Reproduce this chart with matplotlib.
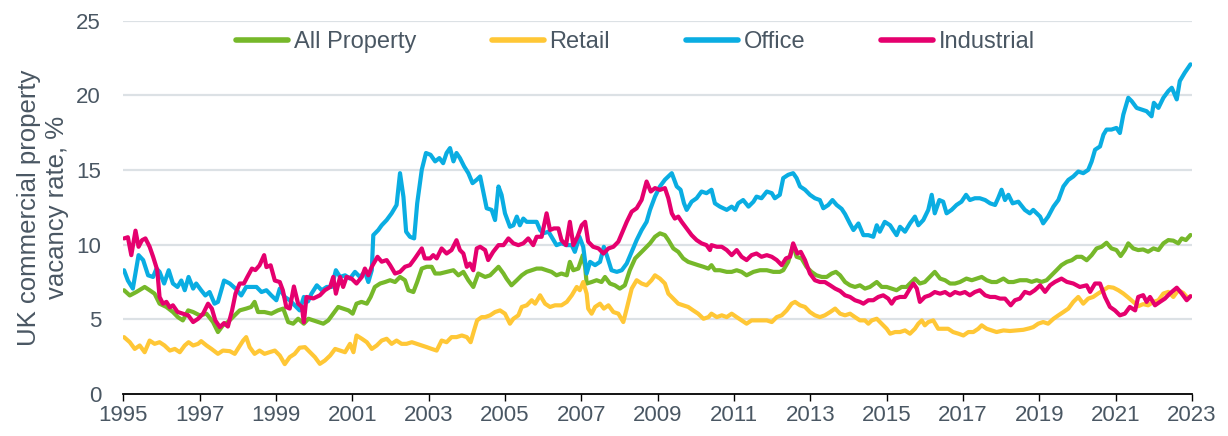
import matplotlib
matplotlib.use("Agg")
import matplotlib.pyplot as plt

# ----------------------------
# Data (decimal year, vacancy %)
# ----------------------------
all_x = [1995.02, 1995.17, 1995.34, 1995.56, 1995.69, 1995.82, 1995.95, 1996.13, 1996.30, 1996.43,
         1996.56, 1996.70, 1996.83, 1997.00, 1997.18, 1997.35, 1997.48, 1997.61, 1997.74, 1997.92,
         1998.05, 1998.22, 1998.35, 1998.44, 1998.53, 1998.70, 1998.88, 1999.05, 1999.19, 1999.32,
         1999.45, 1999.58, 1999.73, 1999.85, 1999.98, 2000.11, 2000.24, 2000.37, 2000.50, 2000.63,
         2000.76, 2000.90, 2001.01, 2001.11, 2001.24, 2001.38, 2001.48, 2001.59, 2001.73, 2001.86,
         2001.99, 2002.12, 2002.25, 2002.38, 2002.47, 2002.60, 2002.70, 2002.82, 2002.95, 2003.08,
         2003.17, 2003.30, 2003.47, 2003.65, 2003.78, 2003.91, 2004.04, 2004.17, 2004.30, 2004.48,
         2004.61, 2004.74, 2004.83, 2004.96, 2005.04, 2005.17, 2005.31, 2005.44, 2005.57, 2005.70,
         2005.83, 2005.96, 2006.09, 2006.22, 2006.35, 2006.48, 2006.62, 2006.70, 2006.79, 2006.92,
         2007.04, 2007.10, 2007.14, 2007.27, 2007.40, 2007.53, 2007.62, 2007.75, 2007.88, 2008.01,
         2008.14, 2008.27, 2008.41, 2008.54, 2008.67, 2008.80, 2008.93, 2009.06, 2009.19, 2009.28,
         2009.41, 2009.54, 2009.67, 2009.80, 2009.93, 2010.06, 2010.20, 2010.33, 2010.41, 2010.50,
         2010.63, 2010.81, 2010.94, 2011.07, 2011.20, 2011.33, 2011.51, 2011.68, 2011.86, 2012.03,
         2012.20, 2012.29, 2012.42, 2012.55, 2012.64, 2012.77, 2012.90, 2013.03, 2013.16, 2013.30,
         2013.43, 2013.56, 2013.67, 2013.78, 2013.91, 2014.04, 2014.17, 2014.30, 2014.43, 2014.56,
         2014.74, 2014.87, 2015.00, 2015.13, 2015.26, 2015.39, 2015.52, 2015.65, 2015.74, 2015.87,
         2016.00, 2016.13, 2016.26, 2016.40, 2016.53, 2016.66, 2016.79, 2016.92, 2017.09, 2017.23,
         2017.36, 2017.49, 2017.62, 2017.75, 2017.88, 2018.06, 2018.19, 2018.32, 2018.49, 2018.67,
         2018.80, 2018.93, 2019.06, 2019.19, 2019.32, 2019.45, 2019.58, 2019.72, 2019.85, 2019.98,
         2020.11, 2020.24, 2020.37, 2020.50, 2020.63, 2020.76, 2020.89, 2021.02, 2021.13, 2021.24,
         2021.33, 2021.46, 2021.59, 2021.72, 2021.85, 2021.99, 2022.12, 2022.25, 2022.38, 2022.51,
         2022.64, 2022.73, 2022.84, 2022.96]
all_y = [6.95, 6.60, 6.83, 7.17, 6.95, 6.72, 6.05, 5.83, 5.49, 5.15,
         4.93, 5.60, 5.49, 5.27, 5.38, 4.82, 4.15, 4.60, 4.82, 5.27,
         5.60, 5.72, 5.83, 6.17, 5.49, 5.49, 5.38, 5.60, 5.72, 4.82,
         4.71, 5.04, 4.71, 5.04, 4.93, 4.82, 4.71, 4.93, 5.38, 5.83,
         5.72, 5.60, 5.38, 6.05, 6.17, 6.05, 6.50, 7.17, 7.40, 7.50,
         7.62, 7.50, 7.84, 7.62, 6.95, 6.83, 7.50, 8.40, 8.52, 8.52,
         8.07, 8.07, 8.18, 8.29, 7.95, 8.18, 7.62, 7.17, 8.07, 7.84,
         7.95, 8.29, 8.52, 8.07, 7.73, 7.28, 7.62, 7.95, 8.18, 8.29,
         8.40, 8.40, 8.29, 8.18, 7.95, 8.07, 7.95, 8.85, 8.29, 8.40,
         9.30, 8.52, 7.40, 7.50, 7.62, 7.50, 7.84, 7.40, 7.28, 7.06,
         7.28, 8.29, 9.08, 9.41, 9.75, 10.09, 10.53, 10.76, 10.64, 10.31,
         9.75, 9.52, 9.08, 8.85, 8.74, 8.63, 8.52, 8.40, 8.63, 8.29,
         8.29, 8.18, 8.18, 8.29, 8.18, 7.95, 8.18, 8.29, 8.29, 8.18,
         8.18, 8.29, 8.85, 9.97, 9.19, 9.08, 8.52, 8.18, 7.95, 7.84,
         7.84, 8.07, 8.18, 7.95, 7.50, 7.28, 7.17, 7.28, 7.06, 7.17,
         7.50, 7.17, 7.17, 7.06, 6.95, 7.17, 7.17, 7.50, 7.73, 7.40,
         7.50, 7.84, 8.18, 7.73, 7.62, 7.40, 7.40, 7.50, 7.73, 7.62,
         7.73, 7.84, 7.62, 7.50, 7.50, 7.73, 7.50, 7.50, 7.62, 7.62,
         7.51, 7.62, 7.51, 7.62, 7.95, 8.29, 8.63, 8.85, 8.96, 9.19,
         9.19, 8.96, 9.30, 9.75, 9.86, 10.13, 9.75, 9.64, 9.24, 9.64,
         10.09, 9.75, 9.64, 9.68, 9.53, 9.75, 9.64, 10.09, 10.31, 10.27,
         10.09, 10.42, 10.31, 10.65]

retail_x = [1995.02, 1995.17, 1995.30, 1995.43, 1995.56, 1995.69, 1995.82, 1995.95, 1996.08, 1996.22,
            1996.35, 1996.48, 1996.61, 1996.71, 1996.83, 1996.96, 1997.04, 1997.18, 1997.31, 1997.48,
            1997.61, 1997.79, 1997.92, 1998.00, 1998.14, 1998.22, 1998.31, 1998.44, 1998.57, 1998.70,
            1998.83, 1998.97, 1999.10, 1999.23, 1999.36, 1999.49, 1999.62, 1999.76, 1999.89, 2000.02,
            2000.15, 2000.28, 2000.42, 2000.55, 2000.68, 2000.81, 2000.94, 2001.03, 2001.11, 2001.25,
            2001.38, 2001.51, 2001.64, 2001.77, 2001.90, 2002.03, 2002.16, 2002.29, 2002.42, 2002.56,
            2002.69, 2002.82, 2002.95, 2003.08, 2003.21, 2003.34, 2003.47, 2003.60, 2003.73, 2003.87,
            2004.00, 2004.10, 2004.19, 2004.27, 2004.39, 2004.48, 2004.61, 2004.74, 2004.87, 2005.00,
            2005.13, 2005.22, 2005.35, 2005.44, 2005.57, 2005.70, 2005.79, 2005.92, 2006.05, 2006.18,
            2006.31, 2006.48, 2006.62, 2006.75, 2006.88, 2006.96, 2007.05, 2007.14, 2007.18, 2007.27,
            2007.36, 2007.49, 2007.59, 2007.71, 2007.84, 2007.97, 2008.10, 2008.19, 2008.32, 2008.45,
            2008.58, 2008.71, 2008.84, 2008.93, 2009.06, 2009.19, 2009.28, 2009.41, 2009.54, 2009.67,
            2009.80, 2009.93, 2010.06, 2010.20, 2010.33, 2010.41, 2010.55, 2010.68, 2010.81, 2010.94,
            2011.07, 2011.20, 2011.33, 2011.46, 2011.59, 2011.72, 2011.86, 2011.99, 2012.12, 2012.25,
            2012.38, 2012.51, 2012.60, 2012.73, 2012.86, 2012.99, 2013.12, 2013.25, 2013.38, 2013.52,
            2013.65, 2013.78, 2013.91, 2014.04, 2014.17, 2014.30, 2014.43, 2014.52, 2014.61, 2014.74,
            2014.87, 2015.00, 2015.09, 2015.22, 2015.35, 2015.48, 2015.61, 2015.74, 2015.83, 2015.92,
            2016.00, 2016.09, 2016.22, 2016.35, 2016.48, 2016.61, 2016.74, 2016.88, 2017.01, 2017.14,
            2017.27, 2017.40, 2017.49, 2017.62, 2017.75, 2017.88, 2018.06, 2018.23, 2018.40, 2018.58,
            2018.74, 2018.84, 2018.97, 2019.10, 2019.23, 2019.37, 2019.50, 2019.63, 2019.76, 2019.89,
            2020.02, 2020.15, 2020.28, 2020.41, 2020.54, 2020.68, 2020.81, 2020.94, 2021.07, 2021.20,
            2021.33, 2021.46, 2021.59, 2021.72, 2021.85, 2021.99, 2022.12, 2022.25, 2022.38, 2022.51,
            2022.64, 2022.77, 2022.90, 2022.96]
retail_y = [3.81, 3.47, 3.02, 3.25, 2.80, 3.58, 3.36, 3.47, 3.25, 2.91,
            3.02, 2.80, 3.25, 3.47, 3.25, 3.36, 3.54, 3.25, 3.02, 2.69,
            2.91, 2.87, 2.69, 3.02, 3.58, 3.81, 3.14, 2.69, 2.91, 2.69,
            2.80, 2.91, 2.58, 2.00, 2.47, 2.69, 3.10, 3.14, 2.80, 2.47,
            2.02, 2.24, 2.58, 3.02, 2.91, 2.80, 3.36, 2.80, 3.92, 3.70,
            3.47, 3.02, 3.25, 3.58, 3.70, 3.36, 3.58, 3.36, 3.36, 3.47,
            3.36, 3.25, 3.14, 3.02, 2.91, 3.58, 3.47, 3.81, 3.81, 3.92,
            3.81, 3.47, 4.26, 4.93, 5.15, 5.15, 5.27, 5.49, 5.60, 5.38,
            4.71, 5.04, 5.27, 5.83, 5.94, 6.28, 6.05, 6.61, 6.05, 5.83,
            5.94, 5.94, 6.17, 6.61, 7.17, 6.95, 7.50, 6.72, 5.72, 5.38,
            5.83, 6.05, 5.72, 5.94, 5.49, 5.38, 4.82, 5.72, 7.06, 7.62,
            7.40, 7.28, 7.62, 7.95, 7.73, 7.40, 6.72, 6.39, 6.05, 5.94,
            5.83, 5.60, 5.38, 5.04, 5.15, 5.38, 5.15, 5.27, 5.15, 5.38,
            5.15, 4.93, 4.71, 4.93, 4.93, 4.93, 4.93, 4.82, 5.15, 5.27,
            5.60, 6.05, 6.17, 5.94, 5.83, 5.49, 5.27, 5.15, 5.27, 5.49,
            5.72, 5.38, 5.27, 5.38, 5.15, 4.93, 4.93, 4.71, 4.93, 5.04,
            4.71, 4.37, 4.04, 4.15, 4.15, 4.26, 4.04, 4.37, 4.71, 4.93,
            4.60, 4.82, 4.93, 4.37, 4.37, 4.37, 4.15, 4.04, 3.92, 4.15,
            4.15, 4.37, 4.60, 4.37, 4.26, 4.15, 4.26, 4.22, 4.26, 4.30,
            4.40, 4.48, 4.71, 4.82, 4.71, 5.04, 5.27, 5.49, 5.72, 6.17,
            6.50, 6.05, 6.39, 6.50, 6.73, 6.95, 7.17, 7.12, 6.95, 6.73,
            6.46, 6.17, 5.88, 6.02, 5.94, 6.17, 6.28, 6.73, 6.84, 6.50,
            6.95, 6.77, 6.39, 6.55]

office_x = [1995.02, 1995.12, 1995.25, 1995.40, 1995.52, 1995.65, 1995.78, 1995.87, 1995.95, 1996.07,
            1996.19, 1996.30, 1996.42, 1996.52, 1996.61, 1996.71, 1996.83, 1996.91, 1997.04, 1997.15,
            1997.26, 1997.39, 1997.48, 1997.64, 1997.79, 1997.94, 1998.09, 1998.22, 1998.35, 1998.49,
            1998.62, 1998.75, 1998.88, 1999.01, 1999.10, 1999.23, 1999.36, 1999.49, 1999.62, 1999.73,
            1999.84, 1999.93, 2000.07, 2000.20, 2000.33, 2000.46, 2000.57, 2000.68, 2000.81, 2000.94,
            2001.07, 2001.20, 2001.33, 2001.42, 2001.51, 2001.55, 2001.68, 2001.77, 2001.90, 2002.03,
            2002.16, 2002.25, 2002.34, 2002.41, 2002.51, 2002.62, 2002.70, 2002.82, 2002.93, 2003.05,
            2003.17, 2003.28, 2003.38, 2003.47, 2003.56, 2003.65, 2003.73, 2003.82, 2003.93, 2004.04,
            2004.15, 2004.26, 2004.35, 2004.43, 2004.52, 2004.65, 2004.74, 2004.83, 2004.91, 2005.00,
            2005.13, 2005.22, 2005.31, 2005.39, 2005.48, 2005.57, 2005.70, 2005.83, 2005.92, 2006.00,
            2006.14, 2006.22, 2006.35, 2006.48, 2006.62, 2006.75, 2006.83, 2006.95, 2007.05, 2007.14,
            2007.23, 2007.36, 2007.49, 2007.59, 2007.68, 2007.79, 2007.93, 2008.06, 2008.19, 2008.32,
            2008.45, 2008.58, 2008.71, 2008.80, 2008.93, 2009.06, 2009.19, 2009.37, 2009.50, 2009.60,
            2009.69, 2009.76, 2009.89, 2010.02, 2010.15, 2010.28, 2010.41, 2010.50, 2010.63, 2010.81,
            2010.94, 2011.03, 2011.11, 2011.24, 2011.38, 2011.51, 2011.59, 2011.72, 2011.86, 2011.99,
            2012.07, 2012.20, 2012.29, 2012.42, 2012.55, 2012.64, 2012.73, 2012.86, 2012.99, 2013.12,
            2013.25, 2013.34, 2013.47, 2013.58, 2013.69, 2013.82, 2013.91, 2014.04, 2014.13, 2014.26,
            2014.39, 2014.52, 2014.65, 2014.74, 2014.82, 2014.95, 2015.09, 2015.17, 2015.26, 2015.35,
            2015.48, 2015.61, 2015.74, 2015.83, 2015.96, 2016.09, 2016.18, 2016.26, 2016.38, 2016.48,
            2016.57, 2016.70, 2016.83, 2016.96, 2017.08, 2017.18, 2017.31, 2017.44, 2017.58, 2017.71,
            2017.84, 2017.92, 2018.01, 2018.10, 2018.19, 2018.30, 2018.45, 2018.62, 2018.75, 2018.84,
            2018.93, 2019.02, 2019.10, 2019.23, 2019.37, 2019.50, 2019.63, 2019.76, 2019.89, 2020.02,
            2020.15, 2020.28, 2020.37, 2020.46, 2020.59, 2020.68, 2020.76, 2020.89, 2021.02, 2021.11,
            2021.20, 2021.33, 2021.42, 2021.55, 2021.68, 2021.81, 2021.94, 2022.00, 2022.12, 2022.25,
            2022.38, 2022.47, 2022.60, 2022.68, 2022.81, 2022.96]
office_y = [8.29, 7.60, 7.06, 9.30, 8.97, 7.95, 7.84, 8.40, 8.18, 7.40,
            8.29, 7.40, 7.17, 7.60, 6.95, 7.84, 7.06, 7.40, 6.95, 6.60,
            6.83, 6.05, 6.17, 7.60, 7.40, 7.06, 6.60, 7.17, 7.17, 7.17,
            6.83, 6.95, 6.60, 6.28, 7.06, 6.50, 6.28, 5.94, 5.60, 6.50,
            6.20, 6.72, 7.28, 6.95, 7.17, 7.17, 8.29, 7.84, 7.95, 7.73,
            8.18, 7.84, 8.18, 7.50, 8.29, 10.64, 10.98, 11.30, 11.65, 12.10,
            12.66, 14.79, 13.20, 10.87, 10.53, 10.42, 12.77, 15.02, 16.14, 16.02,
            15.58, 15.80, 15.46, 16.14, 16.47, 15.58, 16.14, 15.80, 15.24, 14.79,
            14.12, 14.35, 14.57, 13.56, 12.44, 12.33, 11.65, 13.90, 13.34, 12.10,
            11.20, 11.30, 11.88, 11.30, 11.75, 11.53, 11.53, 11.53, 10.98, 10.76,
            10.87, 10.53, 9.97, 10.09, 9.97, 9.97, 9.52, 10.53, 9.86, 8.07,
            8.85, 8.63, 8.85, 9.86, 9.19, 8.29, 8.18, 8.29, 8.74, 9.52,
            10.31, 10.98, 11.53, 12.33, 13.22, 13.90, 14.35, 14.79, 13.90, 13.68,
            12.77, 12.33, 12.88, 13.11, 13.56, 13.45, 13.68, 12.77, 12.55, 12.33,
            12.55, 12.33, 12.77, 12.99, 12.55, 12.88, 13.22, 13.11, 13.56, 13.45,
            13.11, 13.34, 14.46, 14.68, 14.79, 14.46, 13.90, 13.68, 13.34, 13.11,
            12.99, 12.44, 12.66, 12.99, 12.66, 12.40, 12.05, 11.40, 10.98, 11.42,
            10.64, 10.64, 10.53, 11.30, 10.87, 11.53, 11.30, 10.98, 10.64, 11.20,
            10.87, 11.42, 11.88, 11.30, 11.65, 12.33, 13.34, 12.10, 12.99, 12.88,
            12.10, 12.33, 12.66, 12.88, 13.34, 12.99, 13.11, 13.11, 12.99, 12.77,
            12.66, 13.11, 13.68, 12.99, 13.34, 12.77, 12.88, 12.33, 12.10, 12.33,
            12.10, 11.88, 11.43, 11.88, 12.55, 13.00, 13.90, 14.34, 14.57, 14.90,
            14.79, 15.01, 15.57, 16.36, 16.58, 17.37, 17.71, 17.71, 17.82, 17.48,
            18.71, 19.84, 19.61, 19.16, 19.05, 18.94, 18.60, 19.50, 19.16, 19.84,
            20.29, 20.51, 19.73, 20.96, 21.52, 22.08]

ind_x = [1995.02, 1995.12, 1995.21, 1995.32, 1995.40, 1995.49, 1995.58, 1995.69, 1995.78, 1995.89,
         1995.95, 1996.04, 1996.13, 1996.22, 1996.30, 1996.42, 1996.56, 1996.70, 1996.83, 1996.96,
         1997.09, 1997.22, 1997.32, 1997.41, 1997.53, 1997.64, 1997.74, 1997.85, 1997.94, 1998.05,
         1998.16, 1998.25, 1998.37, 1998.46, 1998.57, 1998.69, 1998.75, 1998.86, 1998.97, 1999.10,
         1999.18, 1999.27, 1999.36, 1999.47, 1999.58, 1999.68, 1999.73, 1999.80, 1999.98, 2000.15,
         2000.28, 2000.42, 2000.50, 2000.57, 2000.68, 2000.76, 2000.85, 2000.98, 2001.11, 2001.25,
         2001.33, 2001.42, 2001.51, 2001.66, 2001.77, 2001.90, 2001.99, 2002.12, 2002.25, 2002.38,
         2002.51, 2002.64, 2002.82, 2002.90, 2003.04, 2003.12, 2003.21, 2003.34, 2003.47, 2003.60,
         2003.73, 2003.82, 2003.91, 2004.00, 2004.08, 2004.17, 2004.26, 2004.35, 2004.48, 2004.56,
         2004.69, 2004.83, 2004.96, 2005.09, 2005.22, 2005.35, 2005.48, 2005.61, 2005.74, 2005.83,
         2005.96, 2006.09, 2006.18, 2006.28, 2006.40, 2006.48, 2006.60, 2006.70, 2006.79, 2006.90,
         2007.01, 2007.10, 2007.18, 2007.31, 2007.45, 2007.58, 2007.71, 2007.84, 2007.97, 2008.08,
         2008.19, 2008.32, 2008.45, 2008.58, 2008.71, 2008.82, 2008.93, 2009.06, 2009.19, 2009.28,
         2009.37, 2009.45, 2009.54, 2009.63, 2009.76, 2009.89, 2010.02, 2010.15, 2010.28, 2010.37,
         2010.41, 2010.55, 2010.68, 2010.81, 2010.94, 2011.07, 2011.20, 2011.33, 2011.46, 2011.59,
         2011.72, 2011.86, 2011.99, 2012.12, 2012.25, 2012.36, 2012.47, 2012.55, 2012.66, 2012.75,
         2012.86, 2012.99, 2013.12, 2013.25, 2013.38, 2013.52, 2013.65, 2013.78, 2013.91, 2014.04,
         2014.17, 2014.30, 2014.39, 2014.52, 2014.65, 2014.78, 2014.91, 2015.04, 2015.13, 2015.22,
         2015.35, 2015.48, 2015.61, 2015.70, 2015.79, 2015.87, 2016.00, 2016.13, 2016.26, 2016.40,
         2016.53, 2016.66, 2016.79, 2016.92, 2017.05, 2017.18, 2017.31, 2017.44, 2017.58, 2017.71,
         2017.84, 2017.97, 2018.10, 2018.25, 2018.36, 2018.49, 2018.62, 2018.75, 2018.88, 2019.02,
         2019.15, 2019.28, 2019.41, 2019.58, 2019.72, 2019.89, 2020.06, 2020.24, 2020.33, 2020.46,
         2020.59, 2020.72, 2020.85, 2020.98, 2021.11, 2021.24, 2021.37, 2021.51, 2021.59, 2021.72,
         2021.81, 2021.90, 2022.03, 2022.16, 2022.29, 2022.42, 2022.60, 2022.73, 2022.86, 2022.96]
ind_y = [10.42, 10.50, 9.30, 10.94, 9.86, 10.30, 10.42, 9.86, 9.20, 8.30,
         6.50, 6.05, 6.17, 5.80, 5.94, 5.50, 5.38, 5.27, 4.82, 5.04,
         5.38, 6.05, 5.72, 4.93, 4.48, 4.75, 4.52, 5.60, 6.72, 7.40,
         7.40, 7.84, 8.40, 8.30, 8.62, 9.30, 8.50, 8.62, 7.60, 7.50,
         6.95, 5.83, 5.72, 7.20, 6.05, 5.83, 4.80, 6.50, 6.40, 6.61,
         6.95, 7.17, 7.84, 6.72, 7.84, 7.17, 7.84, 7.73, 7.40, 7.84,
         8.40, 7.95, 8.52, 9.19, 8.86, 8.97, 8.63, 8.07, 8.18, 8.52,
         8.63, 9.08, 9.75, 9.08, 9.08, 9.30, 9.08, 9.75, 9.41, 9.64,
         10.30, 9.64, 9.41, 8.52, 8.74, 8.29, 9.75, 9.86, 9.64, 8.97,
         9.52, 9.97, 9.97, 10.42, 10.09, 9.97, 10.09, 10.42, 9.97, 10.53,
         10.53, 12.10, 10.98, 11.09, 11.09, 10.31, 9.97, 11.53, 9.97, 10.53,
         11.30, 11.53, 10.20, 9.86, 9.75, 9.41, 9.75, 9.86, 10.20, 10.87,
         11.53, 12.21, 12.44, 13.00, 14.23, 13.56, 13.79, 13.67, 13.79, 13.11,
         12.10, 11.75, 11.88, 11.53, 11.09, 10.64, 10.31, 10.09, 9.97, 9.64,
         9.97, 9.86, 9.86, 9.64, 9.30, 9.64, 9.19, 8.97, 9.30, 9.41,
         9.19, 9.30, 9.19, 8.97, 8.63, 9.08, 9.19, 10.09, 9.41, 9.52,
         8.97, 8.07, 7.62, 7.50, 7.50, 7.28, 7.06, 6.90, 6.61, 6.50,
         6.28, 6.17, 6.05, 6.28, 6.28, 6.50, 6.61, 6.39, 6.05, 6.39,
         6.50, 6.50, 7.06, 7.40, 7.06, 6.17, 6.50, 6.61, 6.83, 6.72,
         6.83, 6.61, 6.83, 6.72, 6.83, 6.61, 6.83, 6.95, 6.61, 6.50,
         6.50, 6.39, 6.39, 5.94, 6.28, 6.39, 6.84, 6.73, 6.95, 7.28,
         6.84, 7.28, 7.51, 7.73, 7.51, 7.40, 7.17, 7.28, 6.84, 7.40,
         7.40, 6.50, 5.83, 5.60, 5.27, 5.38, 5.83, 5.60, 6.50, 6.62,
         6.17, 6.50, 5.94, 6.17, 6.39, 6.73, 7.12, 6.73, 6.28, 6.55]

series = [
    ("All Property", all_x, all_y, "#76B82A"),
    ("Retail", retail_x, retail_y, "#FFC736"),
    ("Office", office_x, office_y, "#0AADE2"),
    ("Industrial", ind_x, ind_y, "#E5006E"),
]

year_ticks = list(range(1995, 2024, 2))
y_ticks = [0, 5, 10, 15, 20, 25]

text_col = "#4A5763"
plt.rcParams["font.family"] = ["Liberation Sans", "DejaVu Sans"]

fig = plt.figure(figsize=(12.28, 4.36), dpi=100)
ax = fig.add_axes([0.1004, 0.0963, 0.8703, 0.8562])

for name, xs, ys, col in series:
    ax.plot(xs, ys, color=col, lw=3.0, label=name, solid_joinstyle="round",
            solid_capstyle="round", zorder=3)

ax.set_xlim(1995, 2023)
ax.set_ylim(0, 25)
ax.set_yticks(y_ticks)
ax.set_xticks(year_ticks)
ax.set_xticklabels([str(y) for y in year_ticks],
                   fontfamily=["Liberation Sans Narrow", "Liberation Sans"])

for v in y_ticks[1:]:
    ax.axhline(v, color="#DCE1E5", lw=1.6, zorder=1)

for s in ["top", "right", "left"]:
    ax.spines[s].set_visible(False)
ax.spines["bottom"].set_color("black")
ax.spines["bottom"].set_linewidth(1.3)

ax.tick_params(axis="y", length=0, pad=16, labelsize=16, labelcolor=text_col)
ax.tick_params(axis="x", length=5, width=1.0, color="black", pad=3,
               labelsize=16, labelcolor=text_col)

ax.set_ylabel("UK commercial property\nvacancy rate, %", fontsize=18.5,
              color=text_col, linespacing=1.2, va="center", ha="center")
ax.yaxis.set_label_coords(-0.075, 0.5)

leg = ax.legend(loc="center", bbox_to_anchor=(0.479, 0.943), ncol=4, frameon=False,
                fontsize=17, handlelength=2.2, handletextpad=0.25,
                columnspacing=3.2)
for t in leg.get_texts():
    t.set_color(text_col)
for h in leg.get_lines():
    h.set_linewidth(4.0)

fig.savefig("out.png", dpi=100)
